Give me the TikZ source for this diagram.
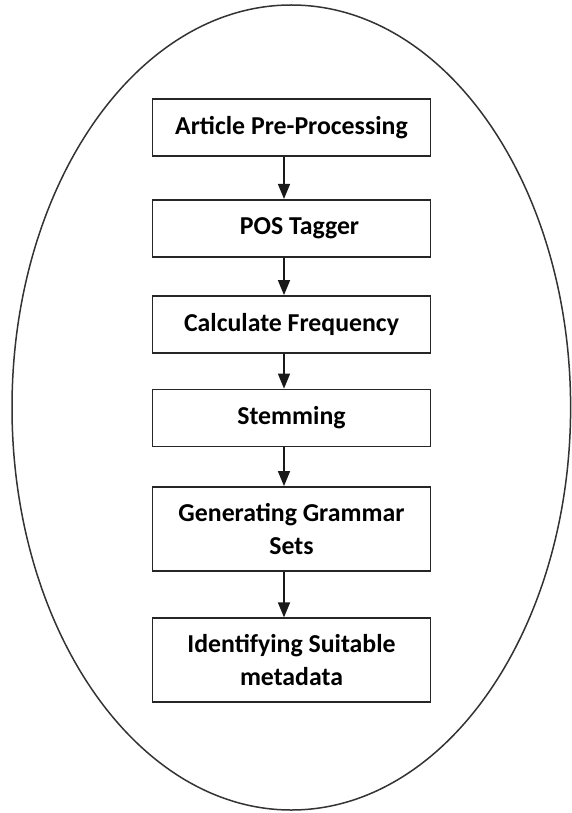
\documentclass[tikz,border=0pt]{standalone}
\usepackage{fontspec}
\setmainfont{Carlito}
\usetikzlibrary{arrows.meta}
\begin{document}
\begin{tikzpicture}[x=1pt,y=-1pt,
  stepbox/.style={draw=black!85, line width=1.8pt, fill=white,
    minimum width=278pt, align=center, inner sep=0pt,
    font=\fontsize{25.8}{33}\selectfont\bfseries},
  flow/.style={-{Triangle[length=15pt,width=12pt]}, line width=1.6pt, black!90},
  outline/.style={line width=1.5pt, black!80}]
\useasboundingbox (0,0) rectangle (572,813);

% enclosing ellipse
\draw[outline] (291.3,407.5) ellipse [x radius=279.3pt, y radius=402.5pt];

% processing steps
\node[stepbox, minimum height=57pt] (pre)  at (291.5,127.5) {Article Pre-Processing};
\node[stepbox, minimum height=57pt] (pos)  at (291.5,228.3) {\hspace*{16pt}POS Tagger};
\node[stepbox, minimum height=57pt] (freq) at (291.5,324.5) {Calculate Frequency};
\node[stepbox, minimum height=57pt] (stem) at (291.5,418.0) {Stemming};
\node[stepbox, minimum height=84pt] (gram) at (291.5,529.0) {Generating Grammar\\Sets};
\node[stepbox, minimum height=84pt] (meta) at (291.5,660.3) {Identifying Suitable\\metadata};

% connectors
\foreach \a/\b in {pre/pos, pos/freq, freq/stem, stem/gram, gram/meta}
  \draw[flow] ([xshift=-7.5pt]\a.south) -- ([xshift=-7.5pt]\b.north);
\end{tikzpicture}
\end{document}
